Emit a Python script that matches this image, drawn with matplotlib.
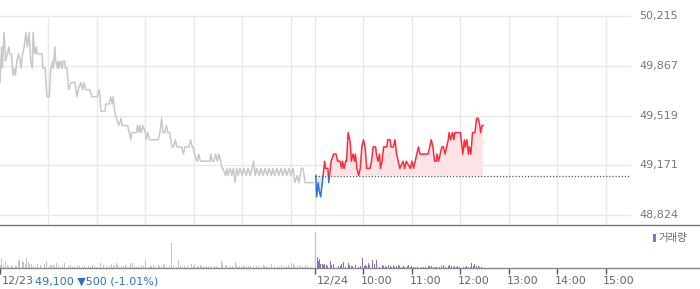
import matplotlib
matplotlib.use('Agg')
import matplotlib.pyplot as plt
import matplotlib.transforms as mtransforms
import numpy as np

# previous session (12/23), minutes after 09:00 and price
prev_min = [0, 2, 3, 5, 7, 9, 11, 12, 14, 16, 18, 19, 21, 23, 25, 26, 28, 30, 32, 34,
            36, 38, 40, 41, 43, 45, 46, 52, 53, 56, 58, 61, 63, 65, 66, 68, 69, 71, 72, 73,
            75, 77, 78, 80, 81, 83, 85, 88, 93, 95, 97, 100, 102, 104, 106, 108, 111, 114, 120, 123,
            125, 130, 131, 135, 137, 139, 140, 142, 144, 147, 150, 151, 158, 160, 162, 163, 169, 170, 172, 173,
            175, 177, 180, 181, 183, 185, 188, 196, 198, 200, 202, 204, 206, 208, 210, 213, 215, 217, 219, 225,
            227, 229, 234, 236, 238, 239, 241, 244, 246, 248, 250, 260, 261, 263, 265, 267, 269, 271, 273, 275,
            276, 279, 281, 282, 285, 287, 289, 291, 293, 295, 297, 300, 302, 305, 307, 310, 312, 314, 316, 318,
            321, 323, 326, 328, 331, 333, 336, 338, 340, 343, 345, 348, 350, 353, 355, 358, 360, 363, 365, 368,
            370, 373, 375, 378, 380, 388]
prev_price = [49750, 50000, 49850, 50100, 49900, 49950, 50000, 49950, 49950, 49800, 49850, 49800, 49900, 49950, 49900, 49850, 49950, 50000, 50100, 50000,
              50100, 49900, 49850, 50100, 49950, 50000, 49950, 49950, 49850, 49850, 49650, 49650, 49850, 49900, 49850, 50000, 49900, 49850, 49900, 49850,
              49900, 49850, 49900, 49900, 49850, 49850, 49700, 49750, 49750, 49650, 49700, 49750, 49700, 49750, 49700, 49700, 49700, 49650, 49650, 49700,
              49550, 49550, 49600, 49600, 49650, 49600, 49650, 49550, 49500, 49450, 49500, 49450, 49450, 49400, 49350, 49400, 49400, 49450, 49400, 49450,
              49400, 49450, 49400, 49350, 49400, 49350, 49350, 49350, 49400, 49500, 49400, 49400, 49450, 49400, 49400, 49300, 49300, 49350, 49300, 49300,
              49250, 49300, 49300, 49350, 49300, 49300, 49250, 49200, 49250, 49200, 49200, 49200, 49250, 49200, 49200, 49250, 49200, 49250, 49200, 49150,
              49150, 49100, 49150, 49100, 49150, 49100, 49150, 49050, 49150, 49100, 49150, 49100, 49150, 49100, 49150, 49100, 49150, 49200, 49100, 49150,
              49100, 49150, 49100, 49150, 49100, 49150, 49100, 49150, 49100, 49150, 49100, 49150, 49100, 49150, 49100, 49150, 49100, 49150, 49050, 49100,
              49050, 49150, 49150, 49050, 49050, 49050]

# today (12/24)
today_min = [1, 2, 4, 5, 7, 9, 10, 12, 13, 16, 17, 19, 20, 23, 26, 28, 31, 33, 34, 36,
             38, 39, 41, 43, 44, 45, 47, 49, 50, 52, 54, 56, 58, 60, 62, 64, 68, 70, 72, 75,
             76, 78, 80, 81, 83, 85, 89, 90, 93, 94, 97, 99, 101, 103, 105, 109, 111, 113, 118, 120,
             122, 124, 126, 128, 130, 140, 144, 146, 148, 150, 151, 153, 155, 157, 159, 161, 163, 165, 166, 168,
             170, 172, 173, 180, 181, 183, 185, 186, 188, 190, 191, 193, 195, 198, 200, 202, 204, 205, 207, 208]
today_price = [49100, 48950, 49050, 49000, 48950, 49050, 49100, 49200, 49150, 49150, 49050, 49150, 49200, 49250, 49250, 49200, 49200, 49150, 49200, 49150,
               49200, 49200, 49400, 49350, 49300, 49200, 49250, 49200, 49250, 49150, 49100, 49150, 49300, 49350, 49300, 49150, 49150, 49200, 49300, 49300,
               49250, 49200, 49250, 49150, 49200, 49300, 49300, 49350, 49350, 49300, 49300, 49350, 49250, 49200, 49150, 49200, 49150, 49200, 49150, 49200,
               49150, 49200, 49250, 49300, 49250, 49250, 49350, 49300, 49200, 49200, 49250, 49200, 49250, 49300, 49300, 49250, 49300, 49350, 49400, 49350,
               49400, 49350, 49400, 49400, 49350, 49250, 49350, 49300, 49350, 49250, 49300, 49250, 49400, 49400, 49500, 49500, 49450, 49400, 49450, 49450]

base_price = 49100
y_ticks = [48824, 49171, 49519, 49867, 50215]
y_labels = ['48,824', '49,171', '49,519', '49,867', '50,215']

# volume (thousand shares)
prev_vmin = [1, 2, 4, 7, 9, 14, 19, 23, 24, 26,
             28, 29, 31, 33, 35, 37, 39, 41, 47, 50,
             55, 57, 58, 62, 64, 66, 70, 72, 80, 85,
             87, 92, 96, 109, 114, 124, 128, 132, 138, 140,
             142, 144, 146, 151, 155, 157, 162, 164, 171, 175,
             180, 182, 186, 190, 196, 198, 202, 204, 208, 212,
             215, 221, 229, 237, 241, 244, 248, 252, 256, 262,
             268, 274, 276, 281, 285, 291, 293, 297, 301, 305,
             310, 314, 320, 326, 330, 336, 338, 343, 349, 355,
             357, 361, 363, 365, 371, 375, 378,
             11, 16, 21, 44, 52, 60, 68, 75, 77, 90,
             99, 102, 105, 112, 117, 120, 135, 148, 153, 160,
             167, 169, 178, 184, 188, 193, 200, 206, 210, 218,
             224, 226, 232, 234, 239, 246, 250, 254, 258, 260,
             265, 271, 279, 283, 288, 295, 299, 303, 308, 312,
             317, 323, 328, 333, 340, 346, 352, 359, 368, 373,
             381, 385]
prev_vol = [30, 100, 30, 73, 30, 30, 20, 67, 93, 30,
            73, 60, 40, 100, 60, 40, 40, 20, 40, 30,
            40, 73, 53, 30, 30, 30, 50, 30, 50, 20,
            30, 20, 30, 20, 30, 50, 30, 20, 40, 20,
            30, 50, 30, 20, 30, 20, 53, 53, 20, 30,
            83, 30, 20, 30, 33, 20, 30, 40, 50, 250,
            17, 83, 17, 40, 40, 17, 30, 20, 17, 20,
            17, 73, 50, 30, 20, 60, 30, 20, 30, 20,
            20, 20, 20, 33, 20, 40, 30, 20, 30, 20,
            30, 53, 40, 20, 33, 20, 33,
            17, 13, 17, 13, 17, 13, 17, 13, 17, 13,
            17, 13, 17, 13, 17, 13, 17, 13, 17, 13,
            17, 13, 17, 13, 17, 13, 17, 13, 17, 13,
            17, 13, 17, 13, 17, 13, 17, 13, 17, 13,
            17, 13, 17, 13, 17, 13, 17, 13, 17, 13,
            17, 13, 17, 13, 17, 13, 17, 13, 17, 13,
            17, 13]
today_vmin = [3, 4, 5, 7, 9, 11, 12, 14, 19, 21,
              23, 29, 33, 35, 41, 43, 47, 50, 52, 54,
              56, 59, 61, 62, 64, 66, 68, 71, 74, 76,
              78, 83, 87, 91, 93, 97, 101, 103, 105, 109,
              114, 116, 120, 124, 130, 134, 140, 142, 144, 151,
              157, 159, 165, 167, 169, 173, 177, 182, 184, 188,
              190, 194, 196, 198, 200, 202, 204, 206,
              16, 26, 31, 38, 45, 80, 85, 89, 95, 99,
              107, 111, 118, 122, 127, 132, 137, 147, 149, 154,
              162, 171, 175, 179, 186, 192]
today_vol = [107, 67, 93, 40, 40, 27, 40, 27, 67, 33,
             40, 17, 40, 60, 47, 27, 17, 27, 17, 7,
             17, 100, 17, 33, 17, 50, 27, 83, 40, 83,
             17, 27, 17, 27, 17, 27, 17, 27, 17, 17,
             17, 27, 17, 7, 17, 10, 17, 17, 17, 10,
             17, 27, 17, 27, 17, 17, 17, 17, 10, 17,
             7, 50, 17, 40, 17, 17, 10, 7,
             20, 17, 20, 13, 17, 13, 17, 13, 10, 13,
             10, 13, 10, 13, 10, 13, 10, 13, 10, 13,
             10, 13, 10, 13, 10, 13]

hour_labels = ['12/24', '10:00', '11:00', '12:00', '13:00', '14:00', '15:00']

# x axis in hours: previous day 09:00 = 0, today 09:00 = 6.5
DAY = 6.5
px = 630 / 13.0  # pixels per hour
W, H = 700, 289
xp = np.array(prev_min) / 60.0
xt = DAY + np.array(today_min) / 60.0
yt = np.array(today_price, dtype=float)

fig = plt.figure(figsize=(7, 2.89), dpi=100)
ax = fig.add_axes([0, 64 / H, 1, 209 / H])
axv = fig.add_axes([0, 21 / H, 1, 41 / H])

xmax = 13 * W / 630.0
ylo = 48824 - 10 * (50215 - 48824) / 199.0
ax.set_xlim(0, xmax)
ax.set_ylim(ylo, 50215)
axv.set_xlim(0, xmax)
axv.set_ylim(0, 410)

grid_c = '#e9e9e9'
vlines = [1, 2, 3, 4, 5, 6, 6.5, 7.5, 8.5, 9.5, 10.5, 11.5, 12.5]
for v in vlines:
    ax.axvline(v, color=grid_c, lw=1, zorder=0)
for v in y_ticks:
    ax.axhline(v, xmin=0, xmax=630 / W, color=grid_c, lw=1, zorder=0, clip_on=False)

# previous day line
ax.plot(xp, prev_price, color='#c6c8cd', lw=1.1, zorder=3)

# today: fill + red/blue split at base price
ax.fill_between(xt, yt, base_price, where=yt >= base_price, interpolate=True,
                color='#fde3e6', lw=0, zorder=1)
ax.fill_between(xt, yt, base_price, where=yt <= base_price, interpolate=True,
                color='#e2ebf7', lw=0, zorder=1)
up, = ax.plot(xt, yt, color='#ff2b3b', lw=1.1, zorder=4)
dn, = ax.plot(xt, yt, color='#3374d6', lw=1.1, zorder=4)
up_clip = plt.Rectangle((0, base_price), xmax, 5000, transform=ax.transData)
dn_clip = plt.Rectangle((0, base_price - 5000), xmax, 5000, transform=ax.transData)
up.set_clip_path(up_clip)
dn.set_clip_path(dn_clip)

ax.hlines(base_price, DAY, 13, colors='#555555', linestyles=(0, (1, 1.5)), lw=0.9, zorder=5)

for s in ['top', 'left', 'right']:
    ax.spines[s].set_visible(False)
    axv.spines[s].set_visible(False)
ax.spines['bottom'].set_color('#777777')
ax.spines['bottom'].set_linewidth(1.0)
axv.spines['bottom'].set_color('#888888')
axv.spines['bottom'].set_linewidth(1.0)
ax.set_xticks([])
ax.set_yticks([])
axv.set_yticks([])

trans = mtransforms.blended_transform_factory(ax.transAxes, ax.transData)
for v, lab in zip(y_ticks, y_labels):
    ax.text(639 / W, v, lab, transform=trans, ha='left', va='center',
            fontsize=8, color='#777777')

# volume
axv.bar(np.array(prev_vmin) / 60.0, prev_vol, width=0.02, color='#c4c4c8', lw=0)
axv.bar(DAY + np.array(today_vmin) / 60.0, today_vol, width=0.02, color='#8a6fc4', lw=0)
axv.vlines(DAY, 0, 360, colors='#c8c8c8', lw=1)

tick_pos = [0] + [DAY + i for i in range(7)]
axv.set_xticks(tick_pos)
axv.set_xticklabels([])
axv.tick_params(axis='x', direction='out', length=4, width=1, color='#555555')

tv = mtransforms.blended_transform_factory(axv.transData, axv.transAxes)
for i, lab in enumerate(hour_labels):
    off = 1.5 if i == 0 else -2.5
    axv.text(DAY + i + off / px, -0.32, lab, transform=tv, ha='left', va='center',
             fontsize=8, color='#666666')

axv.text(2 / W, -0.32, '12/23', transform=axv.transAxes, ha='left', va='center',
         fontsize=8, color='#666666')
axv.text(35 / W, -0.32, '49,100 \u25bc500 (-1.01%)', transform=axv.transAxes,
         ha='left', va='center', fontsize=8, color='#2b6fd4')

# legend
axv.add_patch(plt.Rectangle((653 / W, (268 - 242) / 41.0), 3 / W, 8 / 41.0,
                            transform=axv.transAxes, color='#8a6fc4', lw=0, clip_on=False))
axv.text(658 / W, (268 - 238) / 41.0, '거래량', transform=axv.transAxes, ha='left',
         va='center', fontsize=7.5, color='#666666',
         family=['Noto Sans CJK KR', 'DejaVu Sans'])

fig.savefig('out.png', dpi=100)
